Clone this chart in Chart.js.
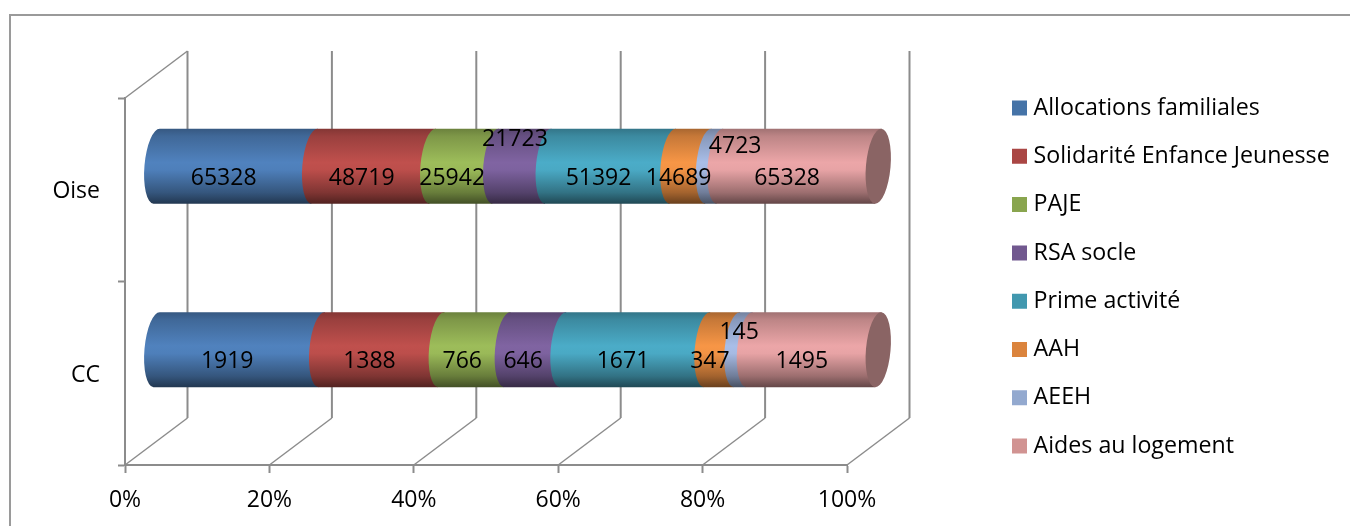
<!DOCTYPE html>
<html><head><meta charset="utf-8">
<style>html,body{margin:0;padding:0;background:#fff}canvas{display:block}</style>
<script src="https://cdn.jsdelivr.net/npm/chart.js@4"></script>
</head><body><canvas id="c" width="1350" height="526"></canvas>
<script>
const categories = ['Oise', 'CC'];
const seriesNames = ['Allocations familiales','Solidarité Enfance Jeunesse','PAJE','RSA socle','Prime activité','AAH','AEEH','Aides au logement'];
const allocations = [65328, 1919];
const solidarite = [48719, 1388];
const paje = [25942, 766];
const rsa = [21723, 646];
const prime = [51392, 1671];
const aah = [14689, 347];
const aeeh = [4723, 145];
const logement = [65328, 1495];
const seriesValues = [allocations, solidarite, paje, rsa, prime, aah, aeeh, logement];
const legendColors = ['#4573A7','#AA4644','#89A54E','#71588F','#4198AF','#DB843D','#93A9CF','#D19392'];
const tubeColors = ['#5082BE','#C0504D','#9DBD5A','#8064A2','#4BACC8','#F79646','#A9BEE8','#ECA6A8'];
const totals = categories.map((_, j) => seriesValues.reduce((s, a) => s + a[j], 0));

const FONT = '"Open Sans"';
const FS = 23;
const LEGEND_FS = 23.2;
const GRAY = '#8c8c8c';
const DEPTH_X = 62.5, DEPTH_Y = 47;
const CAP_RX = 12.3, TILT = 5 * Math.PI / 180;
const LEGEND_PAD = 25.1;
const labelNudge = { '3,0': [5, -39], '6,0': [33, -32], '6,1': [8, -29] };

function shade(hex, f) {
  const n = parseInt(hex.slice(1), 16);
  const c = [n >> 16, (n >> 8) & 255, n & 255].map(v => Math.round(v * f));
  return `rgb(${c[0]},${c[1]},${c[2]})`;
}
const cylinderPlugin = {
  id: 'cylinder',
  beforeDraw(chart) {
    const c = chart.ctx;
    c.save(); c.strokeStyle = '#9a9a9a'; c.lineWidth = 2;
    c.beginPath(); c.moveTo(10, 526); c.lineTo(10, 15); c.lineTo(1350, 15); c.stroke();
    c.restore();
  },
  afterLayout(chart) {
    const l = chart.legend;
    if (l) {
      l.left = 1017 - LEGEND_PAD; l.right = 1350; l.width = l.right - l.left;
      l.top = 108 - LEGEND_FS / 2 - LEGEND_PAD; l.bottom = 526; l.height = l.bottom - l.top;
    }
  },
  beforeDatasetsDraw(chart) {
    const c = chart.ctx, x = chart.scales.x, a = chart.chartArea;
    c.save();
    c.strokeStyle = GRAY;
    x.ticks.forEach(t => {
      const px = x.getPixelForValue(t.value);
      c.lineWidth = 1.5;
      c.beginPath(); c.moveTo(px, a.bottom); c.lineTo(px + DEPTH_X, a.bottom - DEPTH_Y); c.stroke();
      c.lineWidth = 2;
      c.beginPath(); c.moveTo(px + DEPTH_X, a.bottom - DEPTH_Y); c.lineTo(px + DEPTH_X, a.top - DEPTH_Y); c.stroke();
    });
    c.lineWidth = 1.5;
    c.beginPath(); c.moveTo(a.left, a.top); c.lineTo(a.left + DEPTH_X, a.top - DEPTH_Y); c.stroke();
    const sx = Math.sin(TILT);
    chart.data.datasets.forEach((ds, i) => {
      chart.getDatasetMeta(i).data.forEach(el => {
        const h = el.height, cy = el.y - DEPTH_Y / 2;
        const x0 = el.base + DEPTH_X / 2, x1 = el.x + DEPTH_X / 2;
        const ry = h / 2, t = ry * sx;
        const g = c.createLinearGradient(0, cy - ry, 0, cy + ry);
        const b = tubeColors[i];
        g.addColorStop(0, shade(b, .68));
        g.addColorStop(.1, shade(b, .8));
        g.addColorStop(.45, shade(b, 1));
        g.addColorStop(.55, shade(b, .98));
        g.addColorStop(.85, shade(b, .66));
        g.addColorStop(1, shade(b, .42));
        c.fillStyle = g;
        c.beginPath();
        c.ellipse(x0, cy, CAP_RX, ry, TILT, Math.PI / 2, Math.PI * 1.5);
        c.lineTo(x1 + t, cy - ry);
        c.lineTo(x1 - t, cy + ry);
        c.closePath();
        c.fill();
        if (i === chart.data.datasets.length - 1) {
          c.fillStyle = '#8A6464';
          c.beginPath(); c.ellipse(x1, cy, CAP_RX, ry, TILT, 0, Math.PI * 2); c.fill();
        }
      });
    });
    c.fillStyle = '#000';
    c.font = `${FS}px ${FONT}`;
    c.textAlign = 'center'; c.textBaseline = 'middle';
    chart.data.datasets.forEach((ds, i) => {
      chart.getDatasetMeta(i).data.forEach((el, j) => {
        const n = labelNudge[i + ',' + j] || [0, 0];
        const cx = (el.base + el.x) / 2 + DEPTH_X / 2 - 12 + n[0];
        const cy = el.y - DEPTH_Y / 2 + 12 + n[1];
        c.fillText(String(seriesValues[i][j]), cx, cy);
      });
    });
    c.restore();
    return false;
  }
};

new Chart(document.getElementById('c'), {
  type: 'bar',
  plugins: [cylinderPlugin],
  data: {
    labels: categories,
    datasets: seriesNames.map((name, i) => ({
      label: name,
      data: seriesValues[i].map((v, j) => v / totals[j] * 100),
      backgroundColor: legendColors[i],
      barPercentage: 0.41,
      categoryPercentage: 1
    }))
  },
  options: {
    indexAxis: 'y',
    responsive: false,
    animation: false,
    devicePixelRatio: 1,
    layout: { padding: { left: 0, top: 98, right: 183, bottom: 0 } },
    plugins: {
      tooltip: { enabled: false },
      legend: {
        position: 'right',
        align: 'start',
        maxWidth: 320,
        labels: {
          color: '#000',
          font: { family: FONT, size: LEGEND_FS },
          boxWidth: 5, boxHeight: 5,
          padding: LEGEND_PAD,
          generateLabels: ch => Chart.defaults.plugins.legend.labels.generateLabels(ch).map(it => ({ ...it, lineWidth: 10, strokeStyle: it.fillStyle }))
        }
      }
    },
    scales: {
      x: {
        stacked: true, min: 0, max: 100,
        afterFit(s) { s.height = 61; },
        grid: { drawOnChartArea: false, tickLength: 8, tickColor: GRAY, tickWidth: 2 },
        border: { color: GRAY, width: 2 },
        ticks: { stepSize: 20, color: '#000', font: { family: FONT, size: FS }, padding: 14, maxRotation: 0, callback: v => v + '%' }
      },
      y: {
        stacked: true,
        afterFit(s) { s.width = 125; },
        grid: { drawOnChartArea: false, tickLength: 7, tickColor: GRAY, tickWidth: 2 },
        border: { color: GRAY, width: 2 },
        ticks: { color: '#000', font: { family: FONT, size: FS }, padding: 18, labelOffset: 2 }
      }
    }
  }
});
</script></body></html>
